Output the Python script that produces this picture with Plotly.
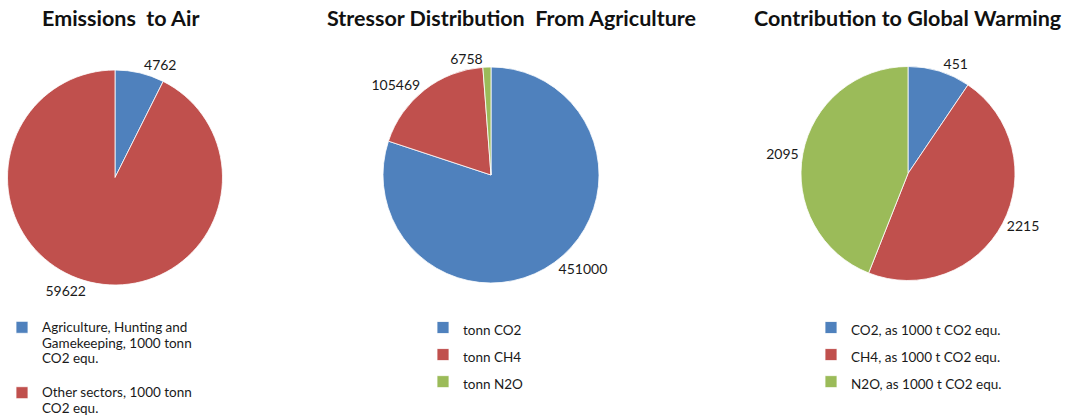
import plotly.graph_objects as go

W, H = 1069, 419

# Colours of the three series families
BLUE, RED, GREEN = "#4F81BD", "#C0504D", "#9BBB59"

# Emissions to air
air_labels = ["Agriculture, Hunting and<br>Gamekeeping, 1000 tonn<br>CO2 equ.<br>\u00a0",
              "Other sectors, 1000 tonn<br>CO2 equ."]
air_values = [4762, 59622]

# Stressor distribution from agriculture
stressor_labels = ["tonn CO2", "tonn CH4", "tonn N2O"]
stressor_values = [451000, 105469, 6758]

# Contribution to global warming
gw_labels = ["CO2, as 1000 t CO2 equ.", "CH4, as 1000 t CO2 equ.", "N2O, as 1000 t CO2 equ."]
gw_values = [451, 2215, 2095]

FONT = "Lato"
TXT = "#1a1a1a"
LEG_SIZE = 13.5


def dom(cx, cy, r):
    """Pixel centre/radius -> paper domain."""
    return dict(x=[(cx - r) / W, (cx + r) / W],
                y=[(H - cy - r) / H, (H - cy + r) / H])


def sized(labels):
    """Legend entries drawn at the legend text size, independent of the row height."""
    return [f'<span style="font-size:{LEG_SIZE}px">{t}</span>' for t in labels]


def pie(labels, values, colors, domain, legend):
    return go.Pie(
        labels=labels, values=values, sort=False, direction="clockwise", rotation=0,
        marker=dict(colors=colors, line=dict(color="white", width=0.8)),
        textinfo="value", texttemplate="%{value:.0f}", textposition="outside",
        outsidetextfont=dict(family=FONT, size=14, color=TXT),
        domain=domain, legend=legend, hoverinfo="label+value+percent",
    )


fig = go.Figure()
fig.add_trace(pie(sized(air_labels), air_values, [BLUE, RED], dom(115, 177.5, 107.5), "legend"))
fig.add_trace(pie(sized(stressor_labels), stressor_values, [BLUE, RED, GREEN],
                  dom(491, 175, 108), "legend2"))
fig.add_trace(pie(sized(gw_labels), gw_values, [BLUE, RED, GREEN],
                  dom(908, 173.5, 107), "legend3"))

legend_common = dict(itemwidth=30, valign="top", xanchor="left", yanchor="top",
                     bgcolor="rgba(0,0,0,0)", itemclick=False, itemdoubleclick=False)
fig.update_layout(
    legend=dict(x=2 / W, y=1 - 313 / H, font=dict(family=FONT, size=12, color=TXT),
                **legend_common),
    legend2=dict(x=423 / W, y=1 - 309 / H, font=dict(family=FONT, size=18.5, color=TXT),
                 **legend_common),
    legend3=dict(x=811 / W, y=1 - 309 / H, font=dict(family=FONT, size=18.5, color=TXT),
                 **legend_common),
)

titles = [("Emissions  to Air", 121), ("Stressor Distribution  From Agriculture", 511),
          ("Contribution to Global Warming", 907)]
for text, cx in titles:
    fig.add_annotation(text=f"<b>{text}</b>", x=cx / W, y=1 - 18 / H, xref="paper", yref="paper",
                       xanchor="center", yanchor="middle", showarrow=False,
                       font=dict(family=FONT, size=21.5, color="#111"))

fig.update_layout(width=W, height=H, margin=dict(l=0, r=0, t=0, b=0, autoexpand=False),
                  paper_bgcolor="white", plot_bgcolor="white", showlegend=True,
                  font=dict(family=FONT, color=TXT))

fig.write_html("out.html")
